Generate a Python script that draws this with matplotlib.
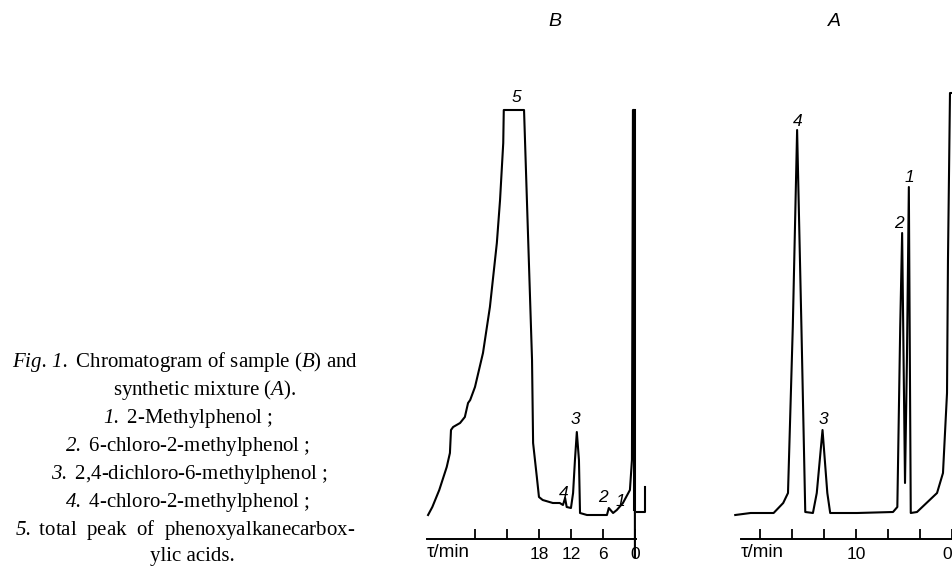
import matplotlib
matplotlib.use("Agg")
import matplotlib.pyplot as plt

# math text is only used for the italic bits of the caption
plt.rcParams["mathtext.fontset"] = "custom"
plt.rcParams["mathtext.rm"] = "Liberation Serif:italic"
plt.rcParams["mathtext.it"] = "Liberation Serif:italic"

# Chromatogram B (sample): retention time in min (reversed axis), detector response
b_time = [38.8, 38.0, 36.7, 35.3, 34.7, 34.5, 34.1, 32.8, 31.9, 31.3, 30.9, 30.0,
          28.5, 27.2, 25.9, 25.3, 24.7, 24.6, 20.8, 20.1, 19.3, 19.1, 18.4,
          18.0, 17.3, 15.4, 14.1, 13.5, 13.1, 12.8, 12.0, 11.6, 11.25, 10.9,
          10.5, 10.3, 9.0, 5.25, 4.9, 4.1, 3.4, 2.25, 0.94, 0.56, 0.375, 0.1, 0.0]
b_signal = [2.4, 3.2, 4.9, 7.2, 8.6, 10.9, 11.2, 11.6, 12.2, 13.6, 13.9, 15.2,
            18.6, 23.2, 29.6, 33.9, 39.6, 42.9, 42.9, 31.2, 17.9, 9.6, 6.2,
            4.2, 3.9, 3.6, 3.6, 3.4, 4.1, 3.2, 3.1, 4.6, 7.9, 10.7,
            7.9, 2.6, 2.4, 2.4, 3.1, 2.6, 2.9, 3.6, 4.9, 7.9, 42.9, 42.9, -1.8]
b_hook_time = [-0.3, -1.9, -1.9]
b_hook_signal = [2.7, 2.7, 5.2]
b_ticks = [30, 24, 18, 12, 6, 0]
b_ticklabels = ["", "", "18", "12", "6", "0"]
b_peaks = ["5", "3", "4", "2", "1"]
b_peak_time = [22.3, 11.1, 13.3, 6.0, 2.8]
b_peak_signal = [44.1, 11.9, 4.6, 4.1, 3.7]

# Chromatogram A (synthetic mixture)
a_time = [22.6, 21.0, 18.6, 17.6, 17.1, 16.6, 16.15, 15.7, 15.3, 14.5, 14.1,
          13.5, 13.0, 12.7, 9.9, 6.15, 5.7, 5.4, 5.2, 4.9, 4.7, 4.5, 4.3,
          3.65, 1.56, 0.94, 0.52, 0.42, 0.21, -0.3]
a_signal = [2.4, 2.6, 2.6, 3.6, 4.6, 21.2, 40.9, 21.2, 2.7, 2.6, 4.6,
            10.9, 4.6, 2.6, 2.6, 2.7, 3.2, 21.2, 30.6, 5.6, 17.9, 35.2, 2.6,
            2.7, 4.6, 6.6, 14.6, 27.9, 44.6, 44.6]
a_ticks = [0, 10 / 3, 20 / 3, 10, 40 / 3, 50 / 3, 20]
a_ticklabels = ["0", "", "", "10", "", "", ""]
a_peaks = ["4", "3", "2", "1"]
a_peak_time = [16.1, 13.4, 5.55, 4.45]
a_peak_signal = [41.7, 11.9, 31.6, 36.2]

caption = [
    r"$Fig.\,1.$ Chromatogram of sample ($B$) and",
    r"synthetic mixture ($A$).",
    r"$1.$ 2-Methylphenol ;",
    r"$2.$ 6-chloro-2-methylphenol ;",
    r"$3.$ 2,4-dichloro-6-methylphenol ;",
    r"$4.$ 4-chloro-2-methylphenol ;",
    r"$5.$ total  peak  of  phenoxyalkanecarbox-",
    r"ylic acids.",
]
caption_x = [185, 205, 188, 188, 190, 188, 185, 192]
caption_y = [362, 390, 418, 446, 474, 502, 530, 557]

W, H = 952, 568
fig = plt.figure(figsize=(W / 100, H / 100), dpi=100)

def make_axes(left_px, right_px, xlim, ticks, ticklabels):
    ax = fig.add_axes([left_px / W, (H - 539) / H, (right_px - left_px) / W, (539 - 60) / H])
    ax.set_xlim(*xlim)
    ax.set_ylim(0, 47.9)
    for s in ["top", "right", "left"]:
        ax.spines[s].set_visible(False)
    ax.spines["bottom"].set_linewidth(1.4)
    ax.set_yticks([])
    ax.set_xticks(ticks)
    ax.set_xticklabels(ticklabels, fontsize=12.5, family="Liberation Sans")
    ax.tick_params(axis="x", direction="in", length=7, width=1.3, pad=6)
    ax.set_xlabel("τ/min", loc="left", fontsize=13.5, family="Liberation Sans")
    ax.xaxis.set_label_coords(0.0, -0.011)
    ax.patch.set_alpha(0)
    return ax

axb = make_axes(427, 636, (39.0, -0.2), b_ticks, b_ticklabels)
axb.plot(b_time, b_signal, color="black", lw=1.5, clip_on=False, solid_joinstyle="round")
axb.plot(b_hook_time, b_hook_signal, color="black", lw=1.5, clip_on=False)
axb.plot([0.2, 0.2], [42.9, 3.0], color="black", lw=2.2, clip_on=False)
for lab, t, s in zip(b_peaks, b_peak_time, b_peak_signal):
    axb.text(t, s, lab, ha="center", va="center", fontsize=12.5, style="italic",
             family="Liberation Sans")
axb.text(0.61, 1.08, "B", transform=axb.transAxes, ha="center", va="center",
         fontsize=14, style="italic", family="Liberation Sans")

axa = make_axes(741, 952, (22.0, 0.0), a_ticks, a_ticklabels)
axa.get_xticklabels()[0].set_ha("right")
axa.plot(a_time, a_signal, color="black", lw=1.5, clip_on=False, solid_joinstyle="round")
for lab, t, s in zip(a_peaks, a_peak_time, a_peak_signal):
    axa.text(t, s, lab, ha="center", va="center", fontsize=12.5, style="italic",
             family="Liberation Sans")
axa.text(0.445, 1.08, "A", transform=axa.transAxes, ha="center", va="center",
         fontsize=14, style="italic", family="Liberation Sans")

for line, x, y in zip(caption, caption_x, caption_y):
    fig.text(x / W, 1 - y / H, line, ha="center", va="center", fontsize=15,
             family="Liberation Serif")

fig.savefig("out.png", dpi=100)
